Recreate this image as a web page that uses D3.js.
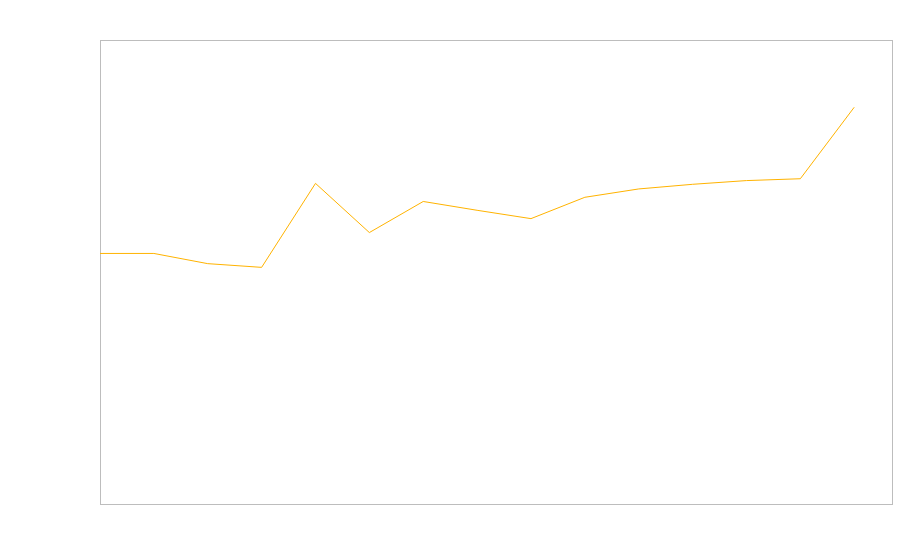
<!DOCTYPE html>
<html>
<head>
<meta charset="utf-8">
<script src="https://cdn.jsdelivr.net/npm/d3@7"></script>
<style>
  html, body { margin: 0; padding: 0; background: #fff; }
  svg { display: block; }
</style>
</head>
<body>
<div id="chart"></div>
<script>
  var steps = [0, 1, 2, 3, 4, 5, 6, 7, 8, 9, 10, 11, 12, 13, 14];
  var values = [54.0, 54.0, 51.8, 51.0, 69.1, 58.5, 65.2, 63.3, 61.5, 66.1, 67.9, 68.9, 69.7, 70.1, 85.5];

  var width = 900;
  var height = 560;
  var margin = { top: 40, right: 7, bottom: 56, left: 100 };

  var svg = d3.select('#chart')
    .append('svg')
    .attr('width', width)
    .attr('height', height);

  var x = d3.scaleLinear().domain([0, 14.72]).range([margin.left, width - margin.right]);
  var y = d3.scaleLinear().domain([0, 100]).range([height - margin.bottom, margin.top]);

  // plain frame, no axes or labels
  svg.append('rect')
    .attr('x', margin.left + 0.5)
    .attr('y', margin.top + 0.5)
    .attr('width', width - margin.left - margin.right - 1)
    .attr('height', height - margin.top - margin.bottom)
    .attr('fill', 'none')
    .attr('stroke', '#bdbdbd')
    .attr('stroke-width', 1);

  var line = d3.line()
    .x(function(d, i) { return x(steps[i]); })
    .y(function(d) { return y(d); });

  svg.append('path')
    .datum(values)
    .attr('d', line)
    .attr('fill', 'none')
    .attr('stroke', '#ffb300')
    .attr('stroke-width', 1);
</script>
</body>
</html>
